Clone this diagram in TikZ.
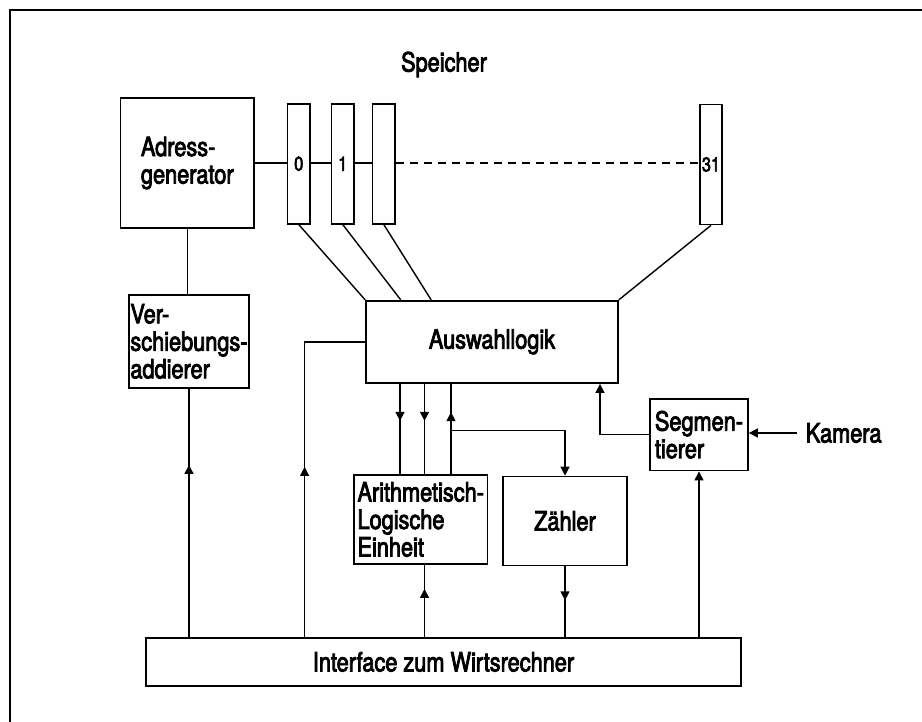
\documentclass[tikz,border=0pt]{standalone}
\usepackage{fontspec}
\setmainfont{TeX Gyre Heros}[FakeStretch=0.82,FakeBold=3]
\usetikzlibrary{arrows.meta,decorations.markings,calc}
\tikzset{
  box/.style={draw, line width=1.7pt, inner sep=0pt, align=left, font=\fontsize{26.5}{27.5}\selectfont},
  memcol/.style={draw, line width=1.7pt, inner sep=0pt, minimum width=22.5pt, minimum height=120pt, font=\fontsize{20}{20}\selectfont},
  lbl/.style={inner sep=0pt, font=\fontsize{26.5}{27.5}\selectfont},
  conn/.style={line width=1.4pt},
  tipend/.style={-{Triangle[width=9pt,length=9pt]}},
  marr/.style={postaction={decorate,decoration={markings,mark=at position #1 with {\arrow{Triangle[width=9pt,length=9pt]}}}}}
}
\begin{document}
\begin{tikzpicture}[x=1pt,y=-1pt]
\useasboundingbox (0,0) rectangle (922,722);
% frame
\draw[line width=2.4pt] (10,722) -- (10,10) -- (922,10);
% title
\node[lbl] (sp) at (444,64.5) {Speicher};
% boxes
\node[box, minimum width=133.4pt, minimum height=130pt] (adr) at (187.3,163) {Adress-\\generator};
\node[memcol] (col0) at (298.75,163.7) {0};
\node[memcol] (col1) at (342.75,163.7) {1};
\node[memcol] (col2) at (383.8,163.7) {};
\node[memcol] (col31) at (711,164.5) {31};
\node[box, minimum width=120pt, minimum height=93.3pt] (vsa) at (189,341.35) {Ver-\\schiebungs-\\addierer};
\node[box, minimum width=252pt, minimum height=82.3pt] (aus) at (492,341.85) {Auswahllogik};
\node[box, minimum width=133.5pt, minimum height=89pt] (alu) at (420.75,519.5) {Arithmetisch-\\Logische\\Einheit};
\node[box, minimum width=124pt, minimum height=89pt] (zah) at (565,521) {Zähler};
\node[box, minimum width=98pt, minimum height=71.8pt] (seg) at (699,434.7) {Segmen-\\tierer};
\node[box, minimum width=595pt, minimum height=48.2pt] (ifc) at (443.5,661.9) {Interface zum Wirtsrechner};
\node[lbl, anchor=west, inner xsep=8.6pt] (kam) at (797,433) {Kamera};
% coordinates
\coordinate (fb) at (304.6,0);
\coordinate (a1) at (400,0);
\coordinate (a2) at (424.5,0);
\coordinate (a3) at (451,0);
\coordinate (br) at (0,430.6);
\coordinate (sg) at (600,0);
% memory bus
\draw[conn] (adr.east) -- (adr.east -| col0.west);
\draw[conn] (col0.east |- adr.east) -- (col1.west |- adr.east);
\draw[conn] (col1.east |- adr.east) -- (col2.west |- adr.east);
\draw[conn, dash pattern=on 8pt off 6pt] (col2.east |- adr.east) -- (col31.west |- adr.east);
% memory to selection logic
\draw[conn] (col0.south) -- (aus.north west);
\draw[conn] (col1.south) -- ([xshift=35.6pt]aus.north west);
\draw[conn] (col2.south) -- ([xshift=66pt]aus.north west);
\draw[conn] (col31.south) -- (aus.north east);
% address path
\draw[conn] (adr.south) -- (adr.south |- vsa.north);
\draw[conn, marr=172pt] (vsa.south |- ifc.north) -- (vsa.south);
\draw[conn, marr=170pt] (ifc.north -| fb) -- (fb |- aus.west) -- (aus.west);
% ALU connections
\draw[conn, marr=37pt] (aus.south -| a1) -- (alu.north -| a1);
\draw[conn, marr=37pt] (aus.south -| a2) -- (alu.north -| a2);
\draw[conn, marr=62pt] (alu.north -| a3) -- (aus.south -| a3);
\draw[conn, tipend] (a3 |- br) -| (zah.north);
\draw[conn, marr=48pt] (ifc.north -| a2) -- (alu.south -| a2);
\draw[conn, marr=34pt] (zah.south) -- (zah.south |- ifc.north);
% segmenter
\draw[conn, tipend] (seg.south |- ifc.north) -- (seg.south);
\draw[conn, tipend] (seg.west) -| (aus.south -| sg);
\draw[conn, tipend] (kam.west) -- (seg.east |- kam.west);
\end{tikzpicture}
\end{document}
